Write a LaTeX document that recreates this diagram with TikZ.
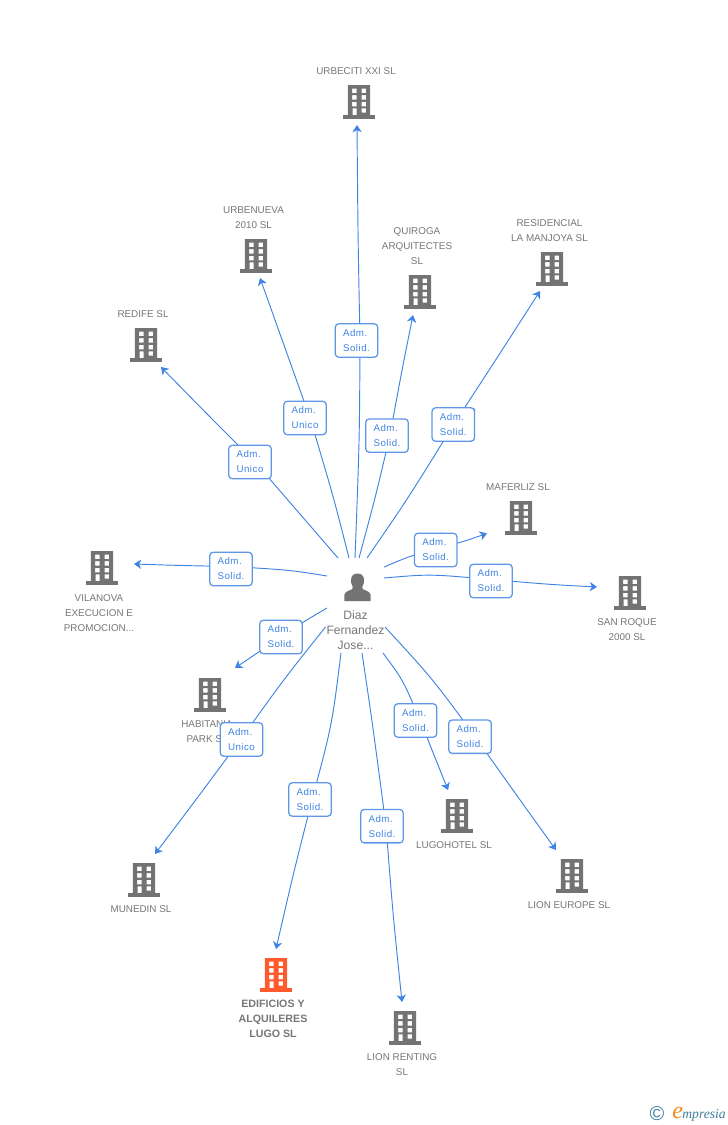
\documentclass[tikz,border=0pt]{standalone}
\usepackage{fontspec}
\setmainfont{Liberation Sans}
\newfontfamily\logofont{Liberation Serif}
\newfontfamily\rolefont[LetterSpace=5]{Liberation Sans}
\usetikzlibrary{arrows.meta}
\definecolor{linkblue}{HTML}{3F83E4}
\definecolor{boxblue}{HTML}{5F97E8}
\definecolor{iconGray}{HTML}{737373}
\definecolor{textGray}{HTML}{777777}
\definecolor{mainOrange}{HTML}{FF5A2B}
\definecolor{logoTeal}{HTML}{3E7F9C}
\definecolor{logoOrange}{HTML}{F08A1D}
\pgfdeclarelayer{edges}
\pgfsetlayers{edges,main}
\tikzset{
  x=0.75pt,y=-0.75pt,
  linkline/.style={draw=linkblue,line width=0.7pt},
  linkarrow/.style={linkline,-{Stealth[length=5.4pt,width=7pt,inset=1.6pt]}},
  rolebox/.style={draw=boxblue,line width=0.95pt,rounded corners=2.5pt,fill=white,minimum width=31.8pt,minimum height=25pt,inner sep=0pt,align=left,text=linkblue,font=\rolefont\fontsize{7.3}{11.25}\selectfont},
  namelabel/.style={text=textGray,align=center,inner sep=0pt,font=\fontsize{7.4}{11.25}\selectfont},
  mainlabel/.style={namelabel,font=\fontsize{8}{11.25}\selectfont\bfseries},
  personlabel/.style={text=textGray,align=center,inner sep=0pt,font=\fontsize{9.1}{11.25}\selectfont},
}
% building icon: #1 name, #2 centre x, #3 top y, #4 colour
\newcommand{\bldg}[4]{%
  \coordinate (#1) at (#2,#3+17);
  \begin{scope}[shift={(#2,#3)}]
    \fill[#4,even odd rule]
      (-11.2,0) rectangle (11.2,30.5)
      (-6.9,3.6) rectangle (-2.4,8)
      (2.6,3.6) rectangle (7.2,8)
      (-6.9,10.2) rectangle (-2.4,14.7)
      (2.6,10.2) rectangle (7.2,14.7)
      (-6.9,16.8) rectangle (-2.4,21.3)
      (2.6,16.8) rectangle (7.2,21.3)
      (-6.3,23.4) rectangle (-2.4,30.5)
      (2.6,23.4) rectangle (7.2,27.6);
    \fill[#4] (-15.7,30.3) rectangle (15.7,33.6);
  \end{scope}}
% link: #1 id, #2 start, #3 ctrl, #4 point behind box, #5 ctrl, #6 end, #7 box centre, #8 second role line
\newcommand{\rolelink}[8]{%
  \coordinate (s#1) at (#2);
  \coordinate (v#1) at (#4);
  \coordinate (e#1) at (#6);
  \node[rolebox] (r#1) at (#7) {Adm.\\#8};
  \begin{pgfonlayer}{edges}
    \draw[linkline] (s#1) .. controls (#3) .. (v#1);
    \draw[linkarrow] (v#1) .. controls (#5) .. (e#1);
    \draw[linkline] (v#1) -- (r#1);
  \end{pgfonlayer}}
\begin{document}
\begin{tikzpicture}
\useasboundingbox (0,0) rectangle (728,1125);
\begin{pgfonlayer}{edges}
\fill[white] (0,0) rectangle (728,1125);
\end{pgfonlayer}

% buildings
\bldg{urbeciti}{359}{85}{iconGray}
\bldg{urbenueva}{256}{239}{iconGray}
\bldg{quiroga}{420}{275}{iconGray}
\bldg{residencial}{552}{252}{iconGray}
\bldg{redife}{146}{328}{iconGray}
\bldg{maferliz}{521}{501}{iconGray}
\bldg{vilanova}{102}{551}{iconGray}
\bldg{sanroque}{630}{576}{iconGray}
\bldg{habitania}{210}{678}{iconGray}
\bldg{lugohotel}{457}{799}{iconGray}
\bldg{lioneurope}{572}{859}{iconGray}
\bldg{munedin}{144}{863}{iconGray}
\bldg{edificios}{276}{958}{mainOrange}
\bldg{lionrenting}{405}{1011}{iconGray}

% building names
\node[namelabel] (turbeciti) at (356,71) {URBECITI XXI SL};
\node[namelabel] (turbenueva) at (253.5,217.5) {URBENUEVA\\2010 SL};
\node[namelabel] (tquiroga) at (417,246) {QUIROGA\\ARQUITECTES\\SL};
\node[namelabel] (tresidencial) at (549.5,230.5) {RESIDENCIAL\\LA MANJOYA SL};
\node[namelabel] (tredife) at (143,314) {REDIFE SL};
\node[namelabel] (tmaferliz) at (518,487) {MAFERLIZ SL};
\node[namelabel] (tvilanova) at (99,613) {VILANOVA\\EXECUCION E\\PROMOCION...};
\node[namelabel] (tsanroque) at (627,629.5) {SAN ROQUE\\2000 SL};
\node[namelabel] (thabitania) at (207,731.5) {HABITANIA\\PARK SL};
\node[namelabel] (tlugohotel) at (454,845) {LUGOHOTEL SL};
\node[namelabel] (tlioneurope) at (569,905) {LION EUROPE SL};
\node[namelabel] (tmunedin) at (141,909) {MUNEDIN SL};
\node[mainlabel] (tedificios) at (273,1018.5) {EDIFICIOS Y\\ALQUILERES\\LUGO SL};
\node[namelabel] (tlionrenting) at (402,1064.5) {LION RENTING\\SL};

% person
\coordinate (person) at (357,588);
\fill[iconGray] (344.3,601) -- (344.3,595.5)
  .. controls (344.5,592) and (348,590.8) .. (351.5,589.6)
  .. controls (352.8,589) and (353,587.5) .. (352.6,586.5)
  .. controls (351,584) and (350.8,581.5) .. (351,579.5)
  .. controls (351.3,575.5) and (354,573.5) .. (357.5,573.5)
  .. controls (361,573.5) and (363.8,575.5) .. (364,579.5)
  .. controls (364.2,581.5) and (364,584) .. (362.4,586.5)
  .. controls (362,587.5) and (362.2,589) .. (363.5,589.6)
  .. controls (367,590.8) and (370.5,592) .. (370.7,595.5)
  -- (370.7,601) -- cycle;
\node[personlabel] (tperson) at (355.5,630) {Diaz\\Fernandez\\Jose...};

% links
\rolelink{a}{338,558}{297,510}{255,462}{208,415}{161,367}{250,462}{Unico}
\rolelink{b}{349,558}{333,495}{310,418}{286,350}{260,278}{305,418}{Unico}
\rolelink{c}{355,558}{359.5,440}{360,340}{358,240}{357,125}{356.5,340.5}{Solid.}
\rolelink{d}{359,558}{376,495}{390,435}{401,375}{413,315}{387,435.6}{Solid.}
\rolelink{e}{367,558}{407,500}{454,424}{497,358}{540,291}{453.3,424.5}{Solid.}
\rolelink{f}{384,567}{410,556}{436,549}{462,542}{487,533.5}{435.7,550}{Solid.}
\rolelink{g}{384,578}{430,574}{491,579.5}{550,584.5}{597,587}{491,581}{Solid.}
\rolelink{h}{327,576}{290,570}{231,566.5}{180,565.5}{134,564}{231,569}{Solid.}
\rolelink{i}{327,608}{304,621.5}{281,637}{258,652.5}{235,668}{281,637}{Solid.}
\rolelink{j}{325.5,627}{284,679}{241,739}{198,797}{155,854}{241.5,739.5}{Unico}
\rolelink{k}{341,653}{332,725}{312,800}{293,875}{276,949}{310,799.5}{Solid.}
\rolelink{l}{362,653}{372,720}{386,826}{393,915}{402,1002}{382,826.2}{Solid.}
\rolelink{m}{383,653}{403,680}{420,720}{434,755}{448,790}{415.5,720.5}{Solid.}
\rolelink{n}{385,627}{432,678}{475,736.5}{515,793}{556,850}{470,736.7}{Solid.}

% logo
\node[inner sep=0pt,text=logoTeal,font=\fontsize{15}{15}\selectfont] (copyr) at (657,1114) {©};
\node[anchor=base west,inner sep=0pt,text=logoTeal,font=\logofont\itshape\fontsize{10.2}{11}\selectfont] (logo) at (672,1118)
  {{\color{logoOrange}\fontsize{18}{18}\selectfont e}\hspace{-0.4pt}mpresia};
\end{tikzpicture}
\end{document}
